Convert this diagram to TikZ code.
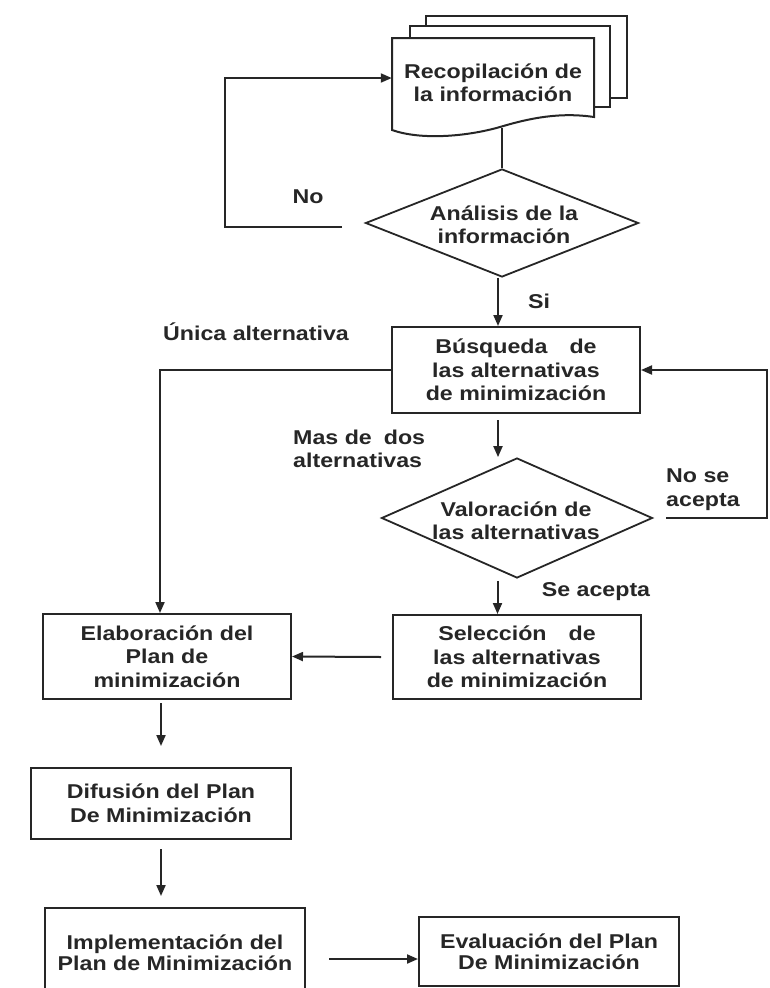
\documentclass[tikz,border=0pt]{standalone}
\usepackage{fontspec}
\setmainfont[FakeStretch=1.16]{Liberation Sans}
\usetikzlibrary{shapes.geometric,arrows.meta}

\definecolor{ink}{HTML}{262626}
\newcommand\flowfont{\fontsize{20}{23.5}\selectfont\bfseries}

\tikzset{
  flow/.style={line width=2pt, draw=ink},
  arr/.style={flow, -{Triangle[length=11pt,width=9pt]}},
  procbox/.style={draw=ink, line width=2pt, rectangle, inner sep=0pt,
                  align=center, font=\flowfont, text=ink},
  decision/.style={draw=ink, line width=1.8pt, diamond, inner sep=0pt},
  lbl/.style={font=\flowfont, text=ink, inner sep=0pt},
}

\begin{document}
\begin{tikzpicture}[x=1pt, y=-1pt]
\useasboundingbox (0,0) rectangle (769,988);

% stacked document: two pages behind the front sheet
\draw[flow, fill=white] (426,16) rectangle (627,98);
\draw[flow, fill=white] (410,26) rectangle (610,107);
\draw[flow, fill=white] (392,38) -- (594,38) -- (594,117)
  .. controls (560,112) and (530,118) .. (500,127)
  .. controls (465,137) and (420,140) .. (392,130) -- cycle;
\node[lbl, align=center, minimum width=202pt, minimum height=90pt] (recop) at (493,83)
  {Recopilación de\\la información};

% decisions
\node[decision, minimum width=273pt, minimum height=108pt] (an) at (502,223) {};
\node[lbl, align=center] (antxt) at (504,225) {Análisis de la\\información};

\node[decision, minimum width=271pt, minimum height=120pt] (val) at (517,518) {};
\node[lbl, align=center] (valtxt) at (516,521) {Valoración de\\las alternativas};

% process boxes
\node[procbox, minimum width=248pt, minimum height=86pt] (busq) at (516,370)
  {Búsqueda\hspace{1.1em}de\\las alternativas\\de minimización};
\node[procbox, minimum width=248pt, minimum height=85pt] (elab) at (167,656.5)
  {Elaboración del\\Plan de\\minimización};
\node[procbox, minimum width=248pt, minimum height=84pt] (selec) at (517,657)
  {Selección\hspace{1.1em}de\\las alternativas\\de minimización};
\node[procbox, minimum width=260pt, minimum height=71pt] (difus) at (161,803.5)
  {Difusión del Plan\\De Minimización};
\node[procbox, minimum width=260pt, minimum height=90pt, font=\fontsize{20}{21}\selectfont\bfseries] (impl) at (175,953)
  {Implementación del\\Plan de Minimización};
\node[procbox, minimum width=260pt, minimum height=69pt, font=\fontsize{20}{21}\selectfont\bfseries] (eval) at (549,951.5)
  {Evaluación del Plan\\De Minimización};

% connectors
\draw[flow] (an.north) -- (an.north |- recop.south);

\coordinate (noA) at (342,227);
\coordinate (noB) at (225,227);
\draw[arr] (noA) -- (noB) |- ([yshift=5pt]recop.west);
\node[lbl] (lno) at (308,197) {No};

\draw[arr] ([xshift=-4pt]an.south) -- ([xshift=-4pt]an.south |- busq.north);
\node[lbl] (lsi) at (539,301) {Si};

\draw[arr] (busq.west) -| ([xshift=-7pt]elab.north);
\node[lbl] (lunica) at (256,332) {Única alternativa};

\draw[arr, shorten <=6pt] ([xshift=-18pt]busq.south) -- ([xshift=-18pt]busq.south |- val.north);
\node[lbl, align=left, anchor=west] (lmas) at (293,449) {Mas de\hspace{0.6em}dos\\alternativas};

\coordinate (rejA) at ([xshift=13pt]val.east);
\coordinate (rejB) at (767,518);
\draw[arr] (rejA) -- (rejB) |- (busq.east);
\node[lbl, align=left, anchor=west] (lrej) at (666,489.5) {No se\\acepta};

\draw[arr, shorten <=2pt] ([xshift=-19.5pt]val.south) -- ([xshift=-19.5pt]val.south |- selec.north);
\node[lbl] (lacc) at (596,592) {Se acepta};

\draw[arr] ([xshift=-11pt]selec.west) -- (elab.east);

\draw[arr, shorten <=3pt, shorten >=21pt] (difus.north |- elab.south) -- (difus.north);
\draw[arr, shorten <=9pt, shorten >=11pt] (difus.south) -- (difus.south |- impl.north);

\coordinate (ie) at (329,959);
\draw[arr] (ie) -- (ie -| eval.west);

\end{tikzpicture}
\end{document}
